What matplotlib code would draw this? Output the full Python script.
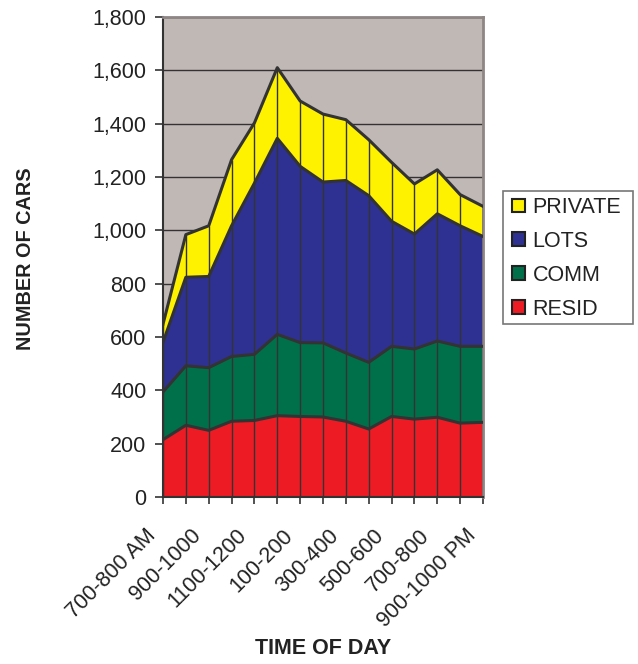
import matplotlib
matplotlib.use("Agg")
import matplotlib.pyplot as plt
from matplotlib.patches import Patch, Rectangle
import matplotlib.transforms as mtransforms
import numpy as np

plt.rcParams['font.family'] = ['Liberation Sans', 'DejaVu Sans']

categories = ["700-800 AM", "800-900", "900-1000", "1000-1100", "1100-1200", "1200-100",
              "100-200", "200-300", "300-400", "400-500", "500-600", "600-700",
              "700-800", "800-900", "900-1000 PM"]
resid   = [215, 269, 250, 284, 287, 305, 302, 300, 284, 255, 302, 292, 299, 277, 280]
comm    = [179, 223, 235, 243, 248, 305, 277, 278, 256, 250, 263, 263, 286, 288, 285]
lots    = [186, 332, 342, 490, 642, 735, 661, 603, 647, 625, 469, 431, 477, 452, 412]
private = [68, 160, 190, 248, 226, 265, 245, 255, 228, 210, 221, 188, 165, 117, 113]

series = [("RESID", resid, "#ED1C24"), ("COMM", comm, "#00704A"),
          ("LOTS", lots, "#2E3192"), ("PRIVATE", private, "#FFF200")]

W, H = 638, 664
fig = plt.figure(figsize=(W/100, H/100), dpi=100)
ax = fig.add_axes([163/W, 1-497/H, (483-163)/W, (497-17)/H])
ax.set_facecolor("#C0B8B5")

x = np.arange(len(categories))
base = np.zeros(len(categories))
edge = "#333333"
for name, vals, col in series:
    top = base + np.array(vals)
    ax.fill_between(x, base, top, facecolor=col, edgecolor="none", zorder=2)
    ax.plot(x, top, color=edge, lw=2.2, zorder=4, solid_joinstyle="round")
    base = top
ax.vlines(x, 0, base, colors=edge, lw=1.0, zorder=3)

ax.set_xlim(0, len(categories)-1)
ax.set_ylim(0, 1800)
ax.tick_params(axis="x", length=5, width=1.2, color=edge, pad=0)
ax.tick_params(axis="y", length=6, width=1.2, color=edge, pad=6)
ax.set_yticks(np.arange(0, 1801, 200))
ax.set_yticklabels([f"{v:,}" for v in range(0, 1801, 200)], fontsize=15.5, color="#222222")
ax.yaxis.grid(True, color="#333333", lw=1.0, zorder=1)
ax.set_axisbelow(True)

ax.set_xticks(x)
ax.set_xticklabels([c if i % 2 == 0 else "" for i, c in enumerate(categories)],
                   rotation=45, ha="right", va="top", rotation_mode="anchor",
                   fontsize=15.5, color="#222222")
offset = mtransforms.ScaledTranslation(-18/100, -21/100, fig.dpi_scale_trans)
for lab in ax.get_xticklabels():
    lab.set_transform(lab.get_transform() + offset)

for s in ["left", "bottom"]:
    ax.spines[s].set_color(edge)
    ax.spines[s].set_linewidth(1.5)
for s in ["top", "right"]:
    ax.spines[s].set_color("#8E8585")
    ax.spines[s].set_linewidth(2)

fig.text(26/W, 1-259/H, "NUMBER OF CARS", fontsize=14.3, fontweight="bold",
         color="#222222", ha="center", va="center", rotation=90)
fig.text(323/W, 1-648/H, "TIME OF DAY", fontsize=15.5, fontweight="bold",
         color="#222222", ha="center", va="center")

# legend frame
fig.patches.append(Rectangle((503/W, 1-324/H), (633-503)/W, (324-191)/H,
                             transform=fig.transFigure, facecolor="white",
                             edgecolor="#777777", lw=1.2, zorder=5))
handles = [Patch(facecolor=col, edgecolor="#222222", lw=1.5, label=name)
           for name, vals, col in reversed(series)]
leg = fig.legend(handles=handles, loc="upper left", bbox_to_anchor=(512/W, 1-197/H),
                 fontsize=15.5, frameon=False,
                 handlelength=0.6, handleheight=0.6, handletextpad=0.35,
                 labelspacing=0.6, borderpad=0, borderaxespad=0)
for t in leg.get_texts():
    t.set_color("#222222")
leg.set_zorder(6)

fig.savefig("out.png", dpi=100)
